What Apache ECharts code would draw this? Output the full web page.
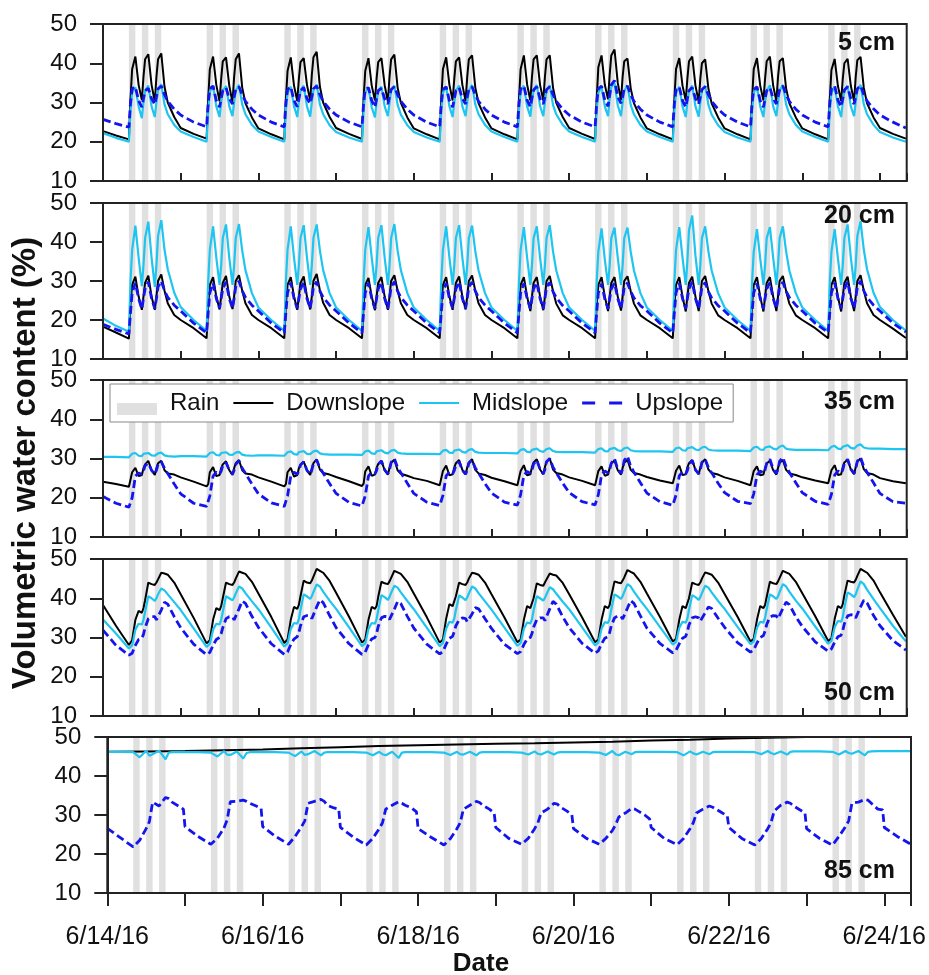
<!DOCTYPE html>
<html>
<head>
<meta charset="utf-8">
<title>Volumetric water content</title>
<script src="https://cdn.jsdelivr.net/npm/echarts@6/dist/echarts.min.js"></script>
<style>
  html, body { margin: 0; padding: 0; background: #fff; }
  #chart { width: 929px; height: 975px; }
</style>
</head>
<body>
<div id="chart"></div>
<script>
// time runs from 6/14/16 00:00 to 6/24/16 08:15 (UTC ms)
const T0 = Date.UTC(2016, 5, 14);
const HOUR = 3600 * 1000;
const DAY = 24 * HOUR;
const T_END = T0 + 248.25 * HOUR;

// rain: three 2-hour events every day from 6/14 to 6/23
const rainDays = [0, 1, 2, 3, 4, 5, 6, 7, 8, 9];
const rainHours = [[8, 10], [12, 14], [16, 18]];

// hours of the day at which values were read; one row per day, 6/14 ... 6/24
const HOURS = [0, 4, 8, 8.5, 9, 10, 11, 12, 12.5, 13, 14, 15, 16, 16.5, 17, 18, 19, 20, 22];
const HOURS_85 = [0, 4, 8, 10, 12, 13, 14, 16, 18, 19, 20, 22, 23.5];
const HOURS_85_DOWN = [0, 12];

// ---- 5 cm ----
const down5 = [
  [22.7, 21.6, 20.6, 31.0, 38.5, 41.7, 34.5, 30.6, 36.5, 41.0, 42.3, 34.5, 30.2, 36.5, 41.0, 42.5, 34.0, 30.0, 26.3],
  [23.5, 22.0, 20.8, 31.0, 38.5, 41.7, 34.5, 30.3, 36.0, 40.5, 41.5, 34.3, 30.0, 36.5, 41.0, 42.5, 33.8, 29.8, 26.2],
  [23.4, 21.9, 20.6, 31.0, 38.0, 41.5, 34.3, 30.4, 36.0, 40.3, 41.3, 34.5, 30.5, 37.0, 41.5, 42.9, 34.0, 30.0, 26.3],
  [23.5, 22.0, 20.7, 31.0, 38.0, 41.3, 34.3, 30.5, 36.0, 40.3, 41.3, 34.4, 30.2, 36.5, 41.0, 42.2, 33.8, 29.9, 26.2],
  [23.4, 21.9, 20.6, 31.0, 38.5, 41.5, 34.5, 30.5, 36.0, 40.5, 41.5, 34.5, 30.4, 36.5, 41.0, 42.0, 33.8, 29.8, 26.2],
  [23.4, 21.9, 20.6, 31.0, 38.5, 42.0, 34.6, 30.5, 36.5, 41.0, 42.0, 34.5, 30.5, 36.5, 41.0, 42.0, 33.8, 29.9, 26.3],
  [23.5, 22.0, 20.7, 31.0, 39.0, 42.0, 34.5, 30.8, 37.0, 42.0, 43.5, 35.0, 30.6, 36.5, 40.5, 41.2, 33.6, 29.8, 26.2],
  [23.4, 21.9, 20.6, 31.0, 38.5, 41.3, 34.3, 30.5, 36.0, 40.5, 41.7, 34.3, 30.2, 36.0, 40.0, 41.0, 33.5, 29.8, 26.2],
  [23.4, 21.9, 20.6, 31.0, 38.5, 41.3, 34.3, 30.5, 36.0, 40.5, 41.7, 34.3, 30.3, 36.5, 40.5, 41.3, 33.6, 29.8, 26.2],
  [23.4, 21.9, 20.6, 31.0, 38.3, 41.1, 34.2, 30.4, 36.0, 40.0, 41.1, 34.2, 30.3, 36.5, 40.8, 41.6, 33.7, 29.8, 26.2],
  [23.5, 22.0, 20.8]
];
const mid5 = [
  [22.2, 21.0, 20.0, 28.0, 32.5, 33.9, 29.0, 26.0, 30.0, 33.0, 34.3, 29.0, 26.3, 30.0, 33.2, 34.7, 29.5, 27.0, 24.3],
  [22.6, 21.2, 20.0, 28.0, 32.8, 34.3, 29.0, 26.3, 30.0, 33.0, 34.2, 29.0, 26.5, 30.0, 33.0, 34.5, 29.5, 27.0, 24.3],
  [22.6, 21.2, 20.0, 28.0, 32.5, 34.0, 29.0, 26.3, 30.2, 33.0, 34.3, 29.0, 26.4, 30.0, 33.2, 34.6, 29.5, 27.0, 24.2],
  [22.5, 21.1, 20.0, 28.0, 32.5, 33.8, 28.8, 26.2, 30.0, 33.0, 34.0, 29.0, 26.5, 30.0, 33.0, 34.3, 29.4, 26.9, 24.2],
  [22.5, 21.1, 20.0, 28.0, 32.5, 34.0, 29.0, 26.3, 30.0, 33.0, 34.3, 29.0, 26.5, 30.0, 33.0, 34.5, 29.5, 27.0, 24.3],
  [22.6, 21.2, 20.0, 28.0, 32.8, 34.3, 29.0, 26.4, 30.2, 33.2, 34.5, 29.1, 26.5, 30.0, 33.0, 34.4, 29.4, 27.0, 24.3],
  [22.6, 21.2, 20.0, 28.0, 32.5, 34.0, 29.0, 26.5, 31.0, 34.0, 35.0, 29.3, 26.5, 30.0, 33.0, 34.3, 29.4, 27.0, 24.3],
  [22.6, 21.2, 20.0, 28.0, 32.5, 34.0, 29.0, 26.3, 30.0, 33.0, 34.3, 29.0, 26.4, 30.0, 33.0, 34.3, 29.4, 26.9, 24.2],
  [22.5, 21.1, 20.0, 28.0, 32.5, 34.0, 29.0, 26.3, 30.0, 33.0, 34.4, 29.0, 26.5, 30.0, 33.0, 34.5, 29.5, 27.0, 24.3],
  [22.6, 21.2, 20.0, 28.0, 32.5, 34.0, 29.0, 26.3, 30.0, 33.0, 34.3, 29.0, 26.5, 30.0, 33.0, 34.5, 29.5, 27.0, 24.3],
  [22.5, 21.1, 20.0]
];
const up5 = [
  [25.7, 24.6, 23.7, 30.0, 33.5, 34.0, 30.5, 28.8, 31.0, 33.0, 33.6, 31.0, 29.5, 31.5, 33.5, 34.2, 32.0, 30.3, 28.3],
  [26.8, 25.0, 23.8, 30.0, 33.5, 34.2, 30.5, 28.8, 31.0, 33.0, 33.8, 31.0, 29.6, 31.5, 33.3, 34.0, 32.0, 30.3, 28.3],
  [26.8, 25.0, 23.8, 30.0, 33.3, 34.0, 30.5, 28.9, 31.0, 33.0, 33.8, 31.0, 29.7, 31.5, 33.5, 34.2, 32.0, 30.3, 28.3],
  [26.8, 25.0, 23.8, 30.0, 33.3, 33.8, 30.5, 28.8, 31.0, 33.0, 33.6, 31.0, 29.6, 31.5, 33.3, 34.0, 32.0, 30.3, 28.3],
  [26.8, 25.0, 23.8, 30.0, 33.3, 34.0, 30.5, 28.8, 31.0, 33.0, 33.8, 31.0, 29.6, 31.5, 33.3, 34.0, 32.0, 30.3, 28.3],
  [26.8, 25.0, 23.8, 30.0, 33.5, 34.2, 30.6, 28.9, 31.2, 33.2, 34.0, 31.0, 29.6, 31.5, 33.3, 34.0, 32.0, 30.3, 28.3],
  [26.8, 25.0, 23.8, 30.0, 33.5, 34.2, 30.6, 29.0, 32.0, 34.5, 35.6, 31.5, 29.8, 31.5, 33.5, 34.2, 32.0, 30.3, 28.3],
  [26.8, 25.0, 23.8, 30.0, 33.3, 34.0, 30.5, 28.8, 31.0, 33.0, 33.8, 31.0, 29.6, 31.5, 33.3, 34.0, 32.0, 30.3, 28.3],
  [26.8, 25.0, 23.8, 30.0, 33.3, 34.0, 30.5, 28.8, 31.0, 33.0, 33.8, 31.0, 29.6, 31.5, 33.3, 34.2, 32.0, 30.3, 28.3],
  [26.8, 25.0, 23.8, 30.0, 33.5, 34.3, 30.6, 28.9, 31.0, 33.2, 34.0, 31.0, 29.6, 31.5, 33.5, 34.3, 32.1, 30.4, 28.4],
  [26.8, 25.0, 23.5]
];

// ---- 20 cm ----
const down20 = [
  [18.3, 16.8, 15.2, 24.0, 29.0, 31.1, 26.0, 22.6, 26.0, 29.5, 31.4, 26.0, 22.6, 26.0, 30.0, 31.7, 27.5, 24.3, 21.3],
  [20.0, 17.9, 15.3, 24.0, 29.0, 31.0, 26.0, 22.7, 26.0, 29.5, 31.3, 26.0, 22.8, 26.0, 30.0, 31.5, 27.5, 24.3, 21.3],
  [20.0, 17.9, 15.3, 24.0, 29.0, 31.0, 26.0, 22.6, 26.0, 29.5, 31.2, 26.0, 22.7, 26.0, 30.0, 31.8, 27.6, 24.4, 21.3],
  [20.0, 17.9, 15.3, 24.0, 29.0, 30.8, 26.0, 22.5, 26.0, 29.5, 31.0, 26.0, 22.6, 26.0, 30.0, 31.5, 27.5, 24.3, 21.3],
  [20.0, 17.9, 15.3, 24.0, 29.0, 31.0, 26.0, 22.6, 26.0, 29.5, 31.2, 26.0, 22.7, 26.0, 30.0, 31.4, 27.5, 24.3, 21.3],
  [20.0, 17.9, 15.3, 24.0, 29.0, 31.0, 26.0, 22.3, 26.0, 29.5, 31.0, 26.0, 22.5, 26.0, 30.0, 31.3, 27.4, 24.2, 21.2],
  [20.0, 17.9, 15.3, 24.0, 29.0, 31.0, 26.0, 22.3, 26.0, 29.5, 31.0, 26.0, 22.4, 26.0, 30.0, 31.2, 27.4, 24.2, 21.2],
  [20.0, 17.9, 15.3, 24.0, 29.0, 31.0, 26.0, 22.2, 26.0, 29.5, 31.1, 26.0, 22.3, 26.0, 30.0, 31.3, 27.4, 24.2, 21.2],
  [20.0, 17.9, 15.3, 24.0, 29.0, 31.0, 26.0, 22.2, 26.0, 29.5, 31.0, 26.0, 22.3, 26.0, 30.0, 31.3, 27.4, 24.2, 21.2],
  [20.0, 17.9, 15.3, 24.0, 29.0, 31.0, 26.0, 22.2, 26.0, 29.5, 31.1, 26.0, 22.3, 26.0, 30.0, 31.5, 27.5, 24.3, 21.3],
  [20.0, 17.8, 15.4]
];
const mid20 = [
  [20.4, 18.5, 17.0, 30.0, 38.0, 44.2, 36.0, 28.7, 34.0, 41.0, 45.2, 36.0, 28.5, 34.0, 41.5, 45.6, 38.0, 33.0, 27.0],
  [23.3, 20.0, 17.2, 30.0, 38.0, 44.0, 36.0, 29.0, 34.0, 41.0, 44.5, 36.0, 29.0, 34.0, 41.0, 44.6, 37.8, 32.8, 26.9],
  [23.2, 20.0, 17.2, 30.0, 38.0, 44.0, 36.0, 29.0, 34.0, 41.0, 44.3, 36.0, 29.0, 34.0, 41.0, 44.5, 37.8, 32.8, 26.9],
  [23.2, 20.0, 17.2, 30.0, 38.0, 43.8, 36.0, 29.0, 34.0, 41.0, 44.3, 36.0, 29.0, 34.0, 41.0, 44.6, 37.8, 32.8, 26.9],
  [23.2, 20.0, 17.2, 30.0, 38.0, 44.0, 36.0, 29.0, 34.0, 41.0, 44.3, 36.0, 29.0, 34.0, 41.0, 44.2, 37.6, 32.7, 26.9],
  [23.2, 20.0, 17.2, 30.0, 38.0, 43.8, 36.0, 29.0, 34.0, 41.0, 44.0, 36.0, 29.0, 34.0, 41.0, 44.3, 37.6, 32.7, 26.9],
  [23.2, 20.0, 17.2, 30.0, 37.5, 43.5, 35.5, 29.0, 34.0, 41.0, 43.7, 36.0, 29.0, 34.0, 41.0, 43.7, 37.5, 32.7, 26.9],
  [23.2, 20.0, 17.2, 30.0, 38.0, 43.8, 36.0, 29.0, 35.0, 43.0, 46.8, 36.5, 29.0, 34.0, 41.0, 44.0, 37.6, 32.7, 26.9],
  [23.2, 20.0, 17.2, 30.0, 37.5, 43.3, 35.8, 29.0, 34.0, 41.0, 43.8, 36.0, 29.0, 34.0, 41.0, 44.0, 37.6, 32.7, 26.9],
  [23.2, 20.0, 17.2, 30.0, 37.5, 43.3, 35.8, 29.0, 34.0, 41.0, 44.5, 36.0, 29.0, 34.0, 41.5, 45.3, 38.0, 33.0, 27.0],
  [23.3, 20.0, 17.3]
];
const up20 = [
  [18.9, 17.6, 16.4, 22.0, 27.0, 29.5, 25.5, 22.8, 25.5, 28.0, 29.8, 25.5, 22.9, 25.5, 28.5, 30.0, 27.5, 25.8, 23.8],
  [22.3, 19.2, 16.7, 22.0, 27.0, 29.5, 25.5, 23.0, 25.5, 28.0, 29.8, 25.5, 23.0, 25.5, 28.5, 30.0, 27.5, 25.8, 23.8],
  [22.3, 19.2, 16.7, 22.0, 27.0, 29.6, 25.5, 23.0, 25.5, 28.0, 29.7, 25.5, 23.0, 25.5, 28.5, 29.8, 27.4, 25.8, 23.8],
  [22.3, 19.2, 16.7, 22.0, 27.0, 29.5, 25.5, 22.9, 25.5, 28.0, 29.6, 25.5, 22.9, 25.5, 28.5, 29.8, 27.4, 25.8, 23.8],
  [22.3, 19.2, 16.7, 22.0, 27.0, 29.5, 25.5, 23.0, 25.5, 28.0, 29.8, 25.5, 23.0, 25.5, 28.5, 29.7, 27.4, 25.8, 23.8],
  [22.3, 19.2, 16.7, 22.0, 27.0, 29.4, 25.5, 22.9, 25.5, 28.0, 29.6, 25.5, 22.9, 25.5, 28.5, 29.6, 27.3, 25.7, 23.7],
  [22.3, 19.2, 16.7, 22.0, 27.0, 29.3, 25.4, 22.9, 25.5, 28.0, 29.5, 25.5, 22.9, 25.5, 28.4, 29.5, 27.3, 25.7, 23.7],
  [22.3, 19.2, 16.7, 22.0, 27.0, 29.5, 25.5, 22.9, 25.5, 28.0, 29.8, 25.5, 22.9, 25.5, 28.5, 29.6, 27.3, 25.7, 23.7],
  [22.3, 19.2, 16.7, 22.0, 27.0, 29.4, 25.5, 22.9, 25.5, 28.0, 29.6, 25.5, 22.9, 25.5, 28.5, 29.7, 27.4, 25.8, 23.8],
  [22.3, 19.2, 16.8, 22.0, 27.0, 29.6, 25.5, 23.0, 25.5, 28.0, 29.8, 25.5, 23.0, 25.5, 28.5, 30.0, 27.5, 25.8, 23.8],
  [22.3, 19.2, 16.9]
];

// ---- 35 cm ----
const down35 = [
  [24.1, 23.5, 22.8, 23.3, 26.5, 27.6, 25.5, 25.8, 27.5, 28.5, 29.4, 27.0, 25.8, 27.5, 28.8, 29.4, 27.0, 26.2, 25.9],
  [25.2, 24.1, 22.9, 23.5, 26.5, 27.8, 25.5, 25.8, 27.5, 28.5, 29.3, 27.0, 25.8, 27.5, 28.8, 29.6, 27.0, 26.2, 25.9],
  [25.2, 24.1, 22.9, 23.5, 26.5, 27.6, 25.4, 25.8, 27.5, 28.5, 29.2, 27.0, 25.8, 27.5, 28.8, 29.8, 27.2, 26.3, 25.9],
  [25.3, 24.2, 23.0, 23.6, 26.7, 28.0, 25.6, 25.9, 27.6, 28.6, 29.4, 27.0, 25.9, 27.6, 28.9, 29.7, 27.0, 26.1, 25.6],
  [25.0, 24.3, 23.2, 23.7, 26.8, 28.2, 25.7, 26.0, 27.7, 28.8, 29.6, 27.1, 26.0, 27.7, 29.0, 29.8, 27.1, 26.2, 25.8],
  [25.1, 24.2, 23.2, 23.7, 26.8, 28.3, 25.7, 26.0, 27.8, 29.0, 29.8, 27.2, 26.0, 27.8, 29.2, 30.0, 27.2, 26.3, 25.9],
  [25.2, 24.3, 23.2, 23.7, 26.8, 28.0, 25.6, 25.9, 27.6, 28.7, 29.5, 27.0, 25.9, 27.6, 28.9, 29.7, 27.1, 26.3, 25.9],
  [25.3, 24.4, 23.7, 24.0, 26.9, 28.2, 25.8, 26.0, 27.7, 28.8, 29.6, 27.1, 26.0, 27.7, 29.0, 29.8, 27.2, 26.3, 25.9],
  [25.2, 24.3, 23.2, 23.7, 26.8, 28.0, 25.7, 25.9, 27.6, 28.7, 29.4, 27.0, 25.9, 27.6, 28.9, 29.6, 27.1, 26.2, 25.8],
  [25.2, 24.4, 23.7, 24.0, 27.0, 28.3, 25.8, 26.0, 27.8, 29.0, 29.7, 27.2, 26.0, 27.8, 29.2, 30.0, 27.3, 26.3, 25.9],
  [25.0, 24.2, 23.7]
];
const mid35 = [
  [30.4, 30.4, 30.3, 30.4, 31.2, 31.4, 30.7, 30.6, 31.2, 31.2, 31.4, 30.8, 30.7, 31.2, 31.3, 31.5, 30.8, 30.6, 30.5],
  [30.6, 30.6, 30.5, 30.6, 31.4, 31.6, 30.9, 30.8, 31.4, 31.4, 31.6, 31.0, 30.9, 31.4, 31.5, 31.7, 31.0, 30.8, 30.7],
  [30.8, 30.8, 30.7, 30.8, 31.6, 31.8, 31.1, 31.0, 31.6, 31.6, 31.9, 31.2, 31.1, 31.6, 31.8, 32.0, 31.3, 31.1, 31.0],
  [31.0, 31.0, 30.9, 31.0, 31.8, 32.0, 31.3, 31.2, 31.8, 31.9, 32.1, 31.5, 31.3, 31.8, 32.0, 32.2, 31.5, 31.3, 31.2],
  [31.2, 31.2, 31.1, 31.2, 32.0, 32.2, 31.5, 31.4, 32.0, 32.1, 32.3, 31.7, 31.5, 32.0, 32.2, 32.4, 31.7, 31.5, 31.4],
  [31.4, 31.4, 31.3, 31.4, 32.2, 32.4, 31.7, 31.6, 32.2, 32.3, 32.5, 31.9, 31.7, 32.2, 32.4, 32.6, 31.9, 31.7, 31.6],
  [31.6, 31.6, 31.5, 31.6, 32.4, 32.6, 31.9, 31.8, 32.4, 32.5, 32.7, 32.1, 31.9, 32.4, 32.6, 32.8, 32.1, 31.9, 31.8],
  [31.8, 31.8, 31.7, 31.8, 32.6, 32.8, 32.1, 32.0, 32.6, 32.7, 32.9, 32.3, 32.1, 32.6, 32.8, 33.0, 32.3, 32.1, 32.0],
  [32.0, 32.0, 31.9, 32.0, 32.8, 33.0, 32.3, 32.2, 32.8, 32.9, 33.1, 32.5, 32.3, 32.8, 33.0, 33.3, 32.5, 32.3, 32.2],
  [32.2, 32.2, 32.1, 32.2, 33.0, 33.2, 32.5, 32.4, 33.0, 33.1, 33.4, 32.7, 32.5, 33.0, 33.3, 33.6, 32.8, 32.6, 32.5],
  [32.5, 32.4, 32.4]
];
const up35 = [
  [20.3, 18.6, 17.6, 17.8, 20.0, 25.5, 26.3, 26.0, 26.8, 28.2, 28.8, 27.0, 26.0, 27.0, 28.5, 29.2, 27.5, 26.2, 23.5],
  [21.0, 18.6, 17.8, 17.9, 20.5, 25.5, 26.5, 26.0, 26.8, 28.2, 29.0, 27.0, 26.0, 27.0, 28.5, 29.4, 27.5, 26.2, 23.5],
  [21.0, 18.7, 17.8, 18.0, 20.5, 25.5, 26.5, 26.0, 26.8, 28.3, 29.2, 27.0, 26.0, 27.0, 28.7, 29.6, 27.6, 26.3, 23.6],
  [21.1, 18.8, 17.9, 18.0, 20.5, 25.5, 26.5, 26.1, 26.9, 28.5, 29.4, 27.1, 26.1, 27.1, 29.0, 30.0, 27.7, 26.4, 23.7],
  [21.1, 18.9, 18.0, 18.1, 20.6, 25.6, 26.6, 26.1, 26.9, 28.4, 29.2, 27.0, 26.0, 27.0, 28.8, 29.6, 27.6, 26.3, 23.6],
  [21.2, 18.9, 18.1, 18.2, 20.8, 25.7, 26.7, 26.2, 27.0, 28.6, 29.6, 27.2, 26.1, 27.2, 29.2, 30.0, 27.8, 26.4, 23.7],
  [21.3, 19.0, 18.2, 18.3, 20.8, 25.8, 26.8, 26.3, 27.1, 28.8, 30.0, 27.3, 26.2, 27.3, 29.5, 30.6, 28.0, 26.5, 23.8],
  [21.2, 19.0, 18.1, 18.2, 20.7, 25.6, 26.6, 26.1, 26.9, 28.5, 29.5, 27.1, 26.1, 27.1, 29.0, 29.8, 27.7, 26.4, 23.7],
  [21.3, 19.1, 18.5, 18.6, 21.0, 25.8, 26.8, 26.3, 27.1, 28.8, 29.8, 27.3, 26.2, 27.3, 29.3, 30.3, 27.9, 26.5, 23.8],
  [21.3, 19.1, 18.3, 18.4, 20.9, 25.8, 26.8, 26.3, 27.1, 28.8, 29.8, 27.3, 26.2, 27.3, 29.3, 30.3, 27.9, 26.5, 23.8],
  [21.1, 19.0, 18.6]
];

// ---- 50 cm ----
const down50 = [
  [38.3, 33.0, 28.1, 28.0, 29.3, 34.5, 36.8, 36.3, 37.5, 39.5, 44.0, 43.6, 43.4, 44.0, 44.8, 46.5, 46.3, 46.0, 44.0],
  [41.0, 35.0, 28.5, 28.4, 29.3, 34.5, 37.5, 37.0, 38.0, 40.0, 44.0, 43.6, 43.4, 44.0, 45.0, 46.8, 46.5, 46.2, 44.2],
  [41.2, 35.2, 28.6, 28.5, 29.5, 34.5, 37.8, 37.3, 38.3, 40.5, 44.5, 44.0, 43.8, 44.5, 45.5, 47.5, 47.0, 46.5, 44.4],
  [41.4, 35.3, 28.7, 28.6, 29.5, 34.5, 37.8, 37.3, 38.0, 40.3, 44.2, 43.8, 43.6, 44.3, 45.2, 47.0, 46.6, 46.2, 44.2],
  [41.2, 35.2, 28.7, 28.6, 29.5, 34.8, 38.5, 38.0, 38.5, 40.5, 44.0, 43.6, 43.4, 44.0, 45.0, 46.5, 46.3, 46.0, 44.0],
  [41.0, 35.1, 28.8, 28.7, 29.5, 34.5, 38.0, 37.5, 38.0, 40.0, 43.8, 43.4, 43.2, 44.0, 44.8, 46.3, 46.0, 45.8, 43.9],
  [41.0, 35.1, 28.8, 28.7, 29.5, 34.5, 38.0, 37.5, 38.3, 40.5, 44.3, 44.0, 43.8, 44.5, 45.3, 47.2, 46.7, 46.3, 44.2],
  [41.2, 35.3, 29.0, 28.9, 29.7, 34.5, 38.0, 37.5, 38.0, 40.0, 44.0, 43.6, 43.4, 44.0, 45.0, 46.6, 46.3, 46.0, 44.0],
  [41.1, 35.3, 29.0, 28.9, 29.7, 34.5, 38.0, 37.5, 38.3, 40.3, 44.2, 43.8, 43.6, 44.3, 45.2, 47.0, 46.6, 46.2, 44.2],
  [41.3, 35.4, 29.1, 29.0, 29.8, 34.7, 38.0, 37.5, 38.5, 40.8, 44.5, 44.2, 44.0, 44.7, 45.7, 47.5, 47.0, 46.5, 44.5],
  [41.5, 35.8, 30.2]
];
const mid50 = [
  [34.6, 31.0, 27.2, 27.2, 28.0, 32.0, 33.5, 33.3, 34.5, 36.5, 40.5, 40.0, 39.3, 40.0, 41.0, 42.5, 42.0, 41.0, 39.0],
  [37.0, 32.3, 27.6, 27.6, 28.4, 32.0, 33.5, 33.3, 34.5, 36.5, 40.5, 40.0, 39.5, 40.2, 41.2, 43.0, 42.5, 41.3, 39.2],
  [37.2, 32.5, 27.7, 27.7, 28.5, 32.2, 33.7, 33.5, 34.7, 37.0, 41.0, 40.5, 39.8, 40.5, 41.6, 43.5, 43.0, 41.7, 39.4],
  [37.3, 32.6, 27.8, 27.8, 28.5, 32.2, 33.7, 33.5, 34.7, 36.8, 40.8, 40.3, 39.6, 40.3, 41.4, 43.2, 42.7, 41.5, 39.3],
  [37.2, 32.5, 27.8, 27.8, 28.6, 32.3, 34.0, 33.8, 34.8, 37.0, 40.7, 40.2, 39.5, 40.2, 41.2, 43.0, 42.5, 41.3, 39.2],
  [37.1, 32.5, 27.9, 27.9, 28.6, 32.2, 33.8, 33.6, 34.6, 36.8, 40.5, 40.0, 39.4, 40.1, 41.0, 42.8, 42.3, 41.2, 39.1],
  [37.2, 32.6, 28.0, 28.0, 28.7, 32.3, 33.9, 33.7, 34.8, 37.2, 41.0, 40.5, 39.8, 40.5, 41.6, 43.6, 43.0, 41.7, 39.4],
  [37.3, 32.7, 28.2, 28.2, 28.9, 32.4, 34.0, 33.8, 34.8, 37.0, 40.8, 40.3, 39.6, 40.3, 41.3, 43.2, 42.7, 41.5, 39.3],
  [37.3, 32.7, 28.3, 28.3, 29.0, 32.5, 34.0, 33.8, 35.0, 37.2, 41.0, 40.5, 39.8, 40.5, 41.6, 43.6, 43.0, 41.7, 39.4],
  [37.4, 32.8, 28.4, 28.4, 29.1, 32.6, 34.2, 34.0, 35.2, 37.6, 41.5, 41.0, 40.3, 41.0, 42.2, 44.3, 43.6, 42.2, 39.8],
  [37.5, 33.0, 29.0]
];
const up50 = [
  [31.9, 28.0, 25.5, 25.5, 26.0, 28.0, 29.5, 29.8, 30.8, 32.5, 34.8, 35.3, 35.3, 34.5, 34.0, 37.0, 39.0, 38.5, 35.3],
  [32.5, 28.3, 25.6, 25.6, 26.2, 28.0, 29.5, 30.0, 31.0, 32.5, 34.8, 35.3, 35.3, 34.5, 34.3, 37.3, 39.3, 38.7, 35.4],
  [32.6, 28.4, 25.7, 25.7, 26.3, 28.2, 29.6, 30.2, 31.3, 33.0, 35.3, 35.6, 35.5, 34.8, 34.8, 37.8, 39.6, 38.9, 35.6],
  [32.5, 28.4, 25.7, 25.7, 26.3, 28.2, 29.6, 30.0, 31.0, 32.8, 35.0, 35.4, 35.3, 34.6, 34.4, 37.2, 39.2, 38.6, 35.4],
  [32.4, 28.3, 25.8, 25.8, 26.4, 28.3, 29.8, 30.3, 31.5, 33.0, 34.5, 35.0, 34.8, 34.0, 34.0, 36.0, 37.6, 37.3, 34.8],
  [32.3, 28.3, 25.9, 25.9, 26.4, 28.2, 29.6, 30.0, 31.0, 32.6, 34.6, 35.0, 35.0, 34.3, 34.3, 37.3, 39.2, 38.5, 35.3],
  [32.5, 28.5, 26.0, 26.0, 26.6, 28.4, 29.8, 30.2, 31.3, 33.0, 35.0, 35.5, 35.4, 34.7, 34.6, 37.5, 39.4, 38.7, 35.5],
  [32.4, 28.5, 26.1, 26.1, 26.7, 28.4, 29.8, 30.3, 31.5, 33.2, 35.0, 35.3, 35.0, 34.2, 34.2, 36.3, 37.8, 37.4, 34.9],
  [32.6, 28.7, 26.3, 26.3, 26.9, 28.6, 30.0, 30.5, 31.6, 33.3, 35.2, 35.6, 35.5, 34.8, 34.7, 37.4, 39.0, 38.4, 35.3],
  [32.8, 28.9, 26.5, 26.5, 27.1, 28.8, 30.2, 30.6, 31.8, 33.5, 35.5, 35.8, 35.6, 35.0, 35.0, 37.8, 39.5, 38.8, 35.6],
  [33.0, 29.2, 26.8]
];

// ---- 85 cm ----
const down85 = [
  [46.2, 46.3], [46.4, 46.6], [46.8, 47.1], [47.4, 47.7], [47.9, 48.1],
  [48.3, 48.4], [48.6, 48.8], [49.1, 49.3], [49.6, 49.8], [50.0, 50.1], [50.2]
];
const mid85 = [
  [46.2, 46.2, 46.1, 44.8, 46.5, 45.2, 45.6, 46.5, 44.3, 46.0, 46.1, 46.1, 46.1],
  [46.1, 46.1, 46.0, 45.0, 46.4, 45.5, 45.4, 46.3, 44.5, 45.9, 46.1, 46.1, 46.1],
  [46.1, 46.1, 46.0, 45.1, 46.3, 45.4, 45.6, 46.4, 45.3, 46.0, 46.1, 46.1, 46.1],
  [46.1, 46.1, 46.0, 45.3, 46.2, 45.6, 45.3, 46.2, 44.6, 46.0, 46.1, 46.1, 46.1],
  [46.1, 46.1, 46.0, 45.4, 46.2, 45.6, 45.5, 46.2, 45.3, 46.0, 46.1, 46.1, 46.1],
  [46.1, 46.1, 46.0, 45.5, 46.3, 45.7, 45.5, 46.3, 45.5, 46.0, 46.1, 46.1, 46.1],
  [46.1, 46.1, 46.0, 45.4, 46.4, 45.6, 45.3, 46.2, 45.6, 46.1, 46.2, 46.2, 46.2],
  [46.2, 46.2, 46.1, 45.3, 46.3, 45.8, 45.5, 46.2, 45.6, 46.1, 46.2, 46.2, 46.2],
  [46.2, 46.2, 46.1, 45.6, 46.4, 45.9, 45.6, 46.3, 45.5, 46.2, 46.3, 46.3, 46.3],
  [46.3, 46.3, 46.2, 45.5, 46.4, 45.9, 45.7, 46.4, 45.3, 46.2, 46.3, 46.4, 46.4],
  [46.4, 46.4, 46.4]
];
const up85 = [
  [26.6, 24.2, 21.8, 23.5, 26.5, 28.3, 33.3, 32.3, 34.5, 34.2, 33.3, 32.3, 31.5],
  [27.0, 24.5, 22.5, 24.0, 26.6, 28.7, 33.4, 33.5, 33.8, 33.5, 33.0, 32.3, 31.7],
  [27.0, 24.5, 22.5, 24.5, 27.0, 28.5, 33.0, 33.5, 34.0, 33.5, 32.5, 31.8, 31.5],
  [26.8, 24.3, 22.3, 24.0, 26.5, 28.0, 31.5, 32.5, 33.4, 33.0, 32.5, 31.8, 30.8],
  [26.5, 24.3, 22.3, 24.0, 26.5, 28.0, 31.5, 32.5, 33.5, 33.2, 32.5, 31.5, 30.5],
  [26.8, 24.0, 22.5, 24.0, 26.5, 28.0, 30.5, 31.5, 33.0, 32.8, 32.0, 31.0, 30.0],
  [26.5, 24.0, 22.5, 24.0, 26.0, 27.5, 29.5, 30.5, 31.7, 31.5, 31.0, 30.0, 29.0],
  [26.8, 24.0, 22.4, 24.0, 26.5, 28.0, 30.5, 31.5, 32.3, 32.0, 31.5, 30.5, 29.8],
  [26.8, 24.0, 22.3, 24.0, 26.5, 28.0, 31.0, 32.5, 33.3, 33.0, 32.3, 31.3, 30.5],
  [26.5, 24.0, 22.3, 24.5, 27.0, 28.5, 33.0, 33.3, 34.0, 33.8, 33.0, 31.5, 31.3],
  [26.8, 24.5, 22.6]
];

const depthLabels = ['5 cm', '20 cm', '35 cm', '50 cm', '85 cm'];
const seriesNames = ['Downslope', 'Midslope', 'Upslope'];
const panelData = [
  [[HOURS, down5], [HOURS, mid5], [HOURS, up5]],
  [[HOURS, down20], [HOURS, mid20], [HOURS, up20]],
  [[HOURS, down35], [HOURS, mid35], [HOURS, up35]],
  [[HOURS, down50], [HOURS, mid50], [HOURS, up50]],
  [[HOURS_85_DOWN, down85], [HOURS_85, mid85], [HOURS_85, up85]]
];

// layout of the five stacked panels
const FONT = "'Liberation Sans', Arial, sans-serif";
const panelLeft = [103, 103, 103, 103, 107.3];
const panelTop = [24, 203, 380, 559, 737];
const panelHeight = [157, 156, 157, 157, 156];
const panelWidth = 803.7;
const labelY = [43, 216, 402, 693, 871];

const lineStyles = {
  Downslope: { color: '#000000', width: 2 },
  Midslope: { color: '#1ec5f0', width: 2.2 },
  Upslope: { color: '#1414ee', width: 2.8, type: [8, 4] }
};

// legend icons: plain line segments (no symbol) and a lowered grey box for rain
const legendIcons = {
  Rain: 'path://M0,0M0,12L40,12L40,24L0,24Z',
  Downslope: 'path://M0,0M0,11L40,11L40,13L0,13ZM40,24',
  Midslope: 'path://M0,0M0,11L40,11L40,13L0,13ZM40,24',
  Upslope: 'path://M0,0M0,10.6L13,10.6L13,13.4L0,13.4ZM27,10.6L40,10.6L40,13.4L27,13.4ZM40,24'
};

function toPoints(hours, rows) {
  const pts = [];
  rows.forEach((row, d) => {
    row.forEach((v, i) => pts.push([T0 + (d * 24 + hours[i]) * HOUR, v]));
  });
  return pts;
}

const rainData = [];
rainDays.forEach(d => rainHours.forEach(h => {
  rainData.push([T0 + (d * 24 + h[0]) * HOUR, T0 + (d * 24 + h[1]) * HOUR]);
}));

function renderRain(params, api) {
  const cs = params.coordSys;
  const x0 = api.coord([api.value(0), 10])[0];
  const x1 = api.coord([api.value(1), 10])[0];
  return {
    type: 'rect',
    shape: { x: x0, y: cs.y, width: x1 - x0, height: cs.height },
    style: { fill: '#e0e0e0' }
  };
}

function dateLabel(v) {
  const d = Math.round((v - T0) / DAY);
  if (Math.abs(v - T0 - d * DAY) > 1000 || d % 2 !== 0) return '';
  const dt = new Date(v);
  return (dt.getUTCMonth() + 1) + '/' + dt.getUTCDate() + '/' + String(dt.getUTCFullYear()).slice(2);
}

const axisLineStyle = { color: '#222', width: 2 };
const grids = [], xAxes = [], yAxes = [], series = [], graphics = [];

panelData.forEach((panel, i) => {
  const last = i === 4;
  grids.push({
    left: panelLeft[i], top: panelTop[i], width: panelWidth, height: panelHeight[i],
    show: true, borderColor: '#222', borderWidth: 2, backgroundColor: 'transparent', z: 6
  });
  xAxes.push({
    type: 'value', gridIndex: i, min: T0, max: T_END, interval: DAY, z: 6,
    axisLine: { onZero: false, lineStyle: axisLineStyle },
    axisTick: { inside: !last, length: last ? 13 : 8, lineStyle: axisLineStyle },
    axisLabel: { show: last, formatter: dateLabel, fontSize: 25, fontFamily: FONT, color: '#111', margin: 32 },
    splitLine: { show: false }
  });
  yAxes.push({
    type: 'value', gridIndex: i, min: 10, max: 50, interval: 10, z: 6,
    axisLine: { show: true, onZero: false, lineStyle: axisLineStyle },
    axisTick: { show: true, length: 13, lineStyle: axisLineStyle },
    axisLabel: { fontSize: 24, fontFamily: FONT, color: '#111', margin: 26 },
    splitLine: { show: false }
  });
  series.push({
    name: 'Rain', type: 'custom', xAxisIndex: i, yAxisIndex: i,
    data: rainData, renderItem: renderRain, itemStyle: { color: '#e0e0e0' },
    z: 1, silent: true
  });
  panel.forEach((s, k) => {
    const name = seriesNames[k];
    series.push({
      name, type: 'line', xAxisIndex: i, yAxisIndex: i,
      data: toPoints(s[0], s[1]),
      showSymbol: false, symbol: 'none', clip: true,
      lineStyle: lineStyles[name], itemStyle: { color: lineStyles[name].color },
      z: 2
    });
  });
  graphics.push({
    type: 'text', x: 895, y: labelY[i], z: 20,
    style: { text: depthLabels[i], font: 'bold 25px ' + FONT, fill: '#111',
             align: 'right', verticalAlign: 'middle' }
  });
});

graphics.push({
  type: 'text', x: 26, y: 463, rotation: Math.PI / 2, z: 20,
  style: { text: 'Volumetric water content (%)', font: 'bold 33px ' + FONT, fill: '#111',
           align: 'center', verticalAlign: 'middle' }
});
graphics.push({
  type: 'text', x: 481, y: 964, z: 20,
  style: { text: 'Date', font: 'bold 26px ' + FONT, fill: '#111', align: 'center', verticalAlign: 'middle' }
});

const chart = echarts.init(document.getElementById('chart'));
chart.setOption({
  animation: false,
  backgroundColor: '#fff',
  grid: grids,
  xAxis: xAxes,
  yAxis: yAxes,
  legend: {
    left: 110, top: 384, orient: 'horizontal', z: 10,
    padding: [7, 10, 7, 7], itemGap: 14, itemWidth: 40, itemHeight: 24,
    backgroundColor: '#fff', borderColor: '#888', borderWidth: 1, borderRadius: 0,
    selectedMode: false,
    itemStyle: { borderWidth: 0 },
    textStyle: { fontSize: 24, fontFamily: FONT, color: '#111', padding: [0, 0, 0, 8] },
    data: seriesNames.reduce((list, n) => list.concat([{ name: n, icon: legendIcons[n] }]),
                             [{ name: 'Rain', icon: legendIcons.Rain }])
  },
  graphic: graphics,
  series: series
});
</script>
</body>
</html>
